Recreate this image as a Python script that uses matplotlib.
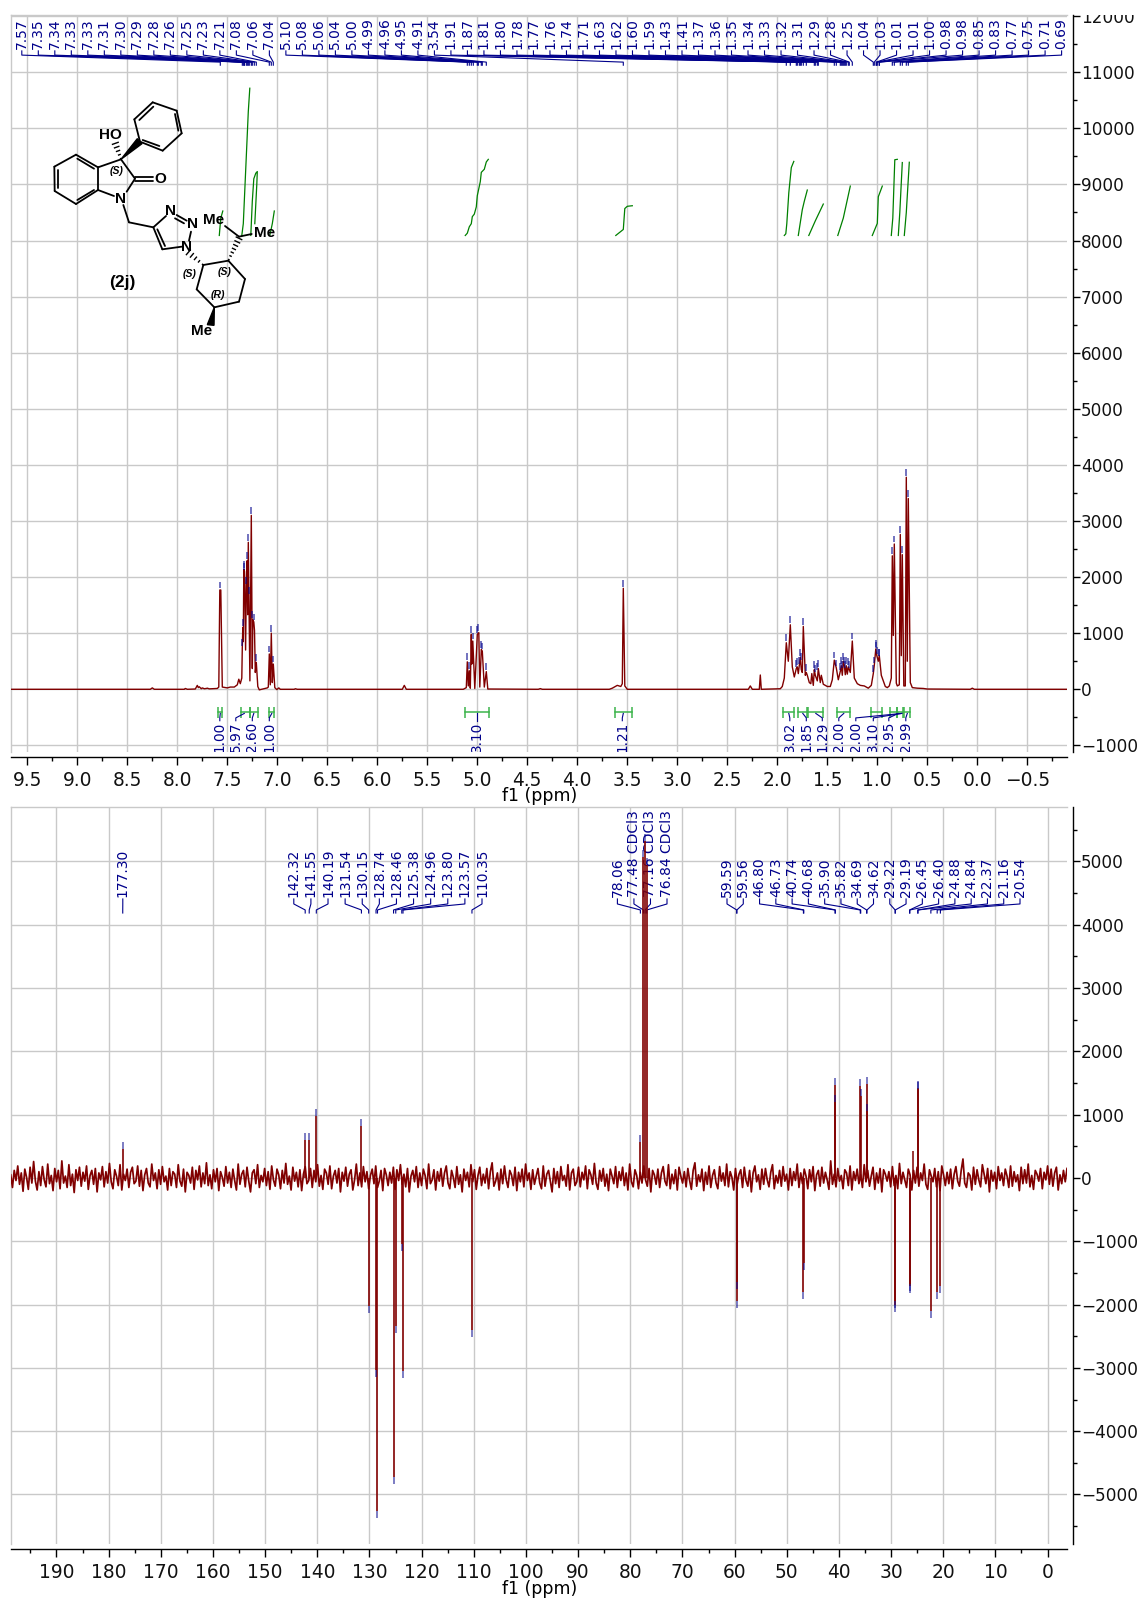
import numpy as np
import matplotlib
matplotlib.use('Agg')
import matplotlib.pyplot as plt
from matplotlib.patches import Polygon
from matplotlib.ticker import MultipleLocator
from matplotlib.transforms import Bbox

W, H = 1138, 1599
RED = '#800000'
NAVY = '#00008b'
GREEN = '#008000'
BRACKET = '#3cb44b'
GRID = '#c9c9c9'

# ---- 1H spectrum, vertices
h_ppm = [9.66, 8.27, 8.25, 8.23, 7.93, 7.92, 7.90, 7.82, 7.80, 7.79, 7.78, 7.76, 7.75, 7.73, 7.71, 7.70, 7.68,
         7.60, 7.585, 7.575, 7.565, 7.55, 7.50, 7.47, 7.43, 7.40, 7.385, 7.37, 7.355, 7.35, 7.345, 7.34, 7.335,
         7.328, 7.317, 7.31, 7.303, 7.296, 7.29, 7.284, 7.274, 7.26, 7.25, 7.245, 7.235, 7.228, 7.22, 7.21,
         7.195, 7.18, 7.10, 7.09, 7.08, 7.07, 7.06, 7.05, 7.04, 7.025, 7.005, 6.985, 6.97, 6.83, 6.82, 6.80,
         5.75, 5.73, 5.71, 5.14, 5.11, 5.10, 5.09, 5.08, 5.07, 5.06, 5.055, 5.045, 5.025, 5.00, 4.985, 4.975,
         4.96, 4.95, 4.93, 4.91, 4.895, 4.39, 4.37, 4.35, 3.68, 3.65, 3.62, 3.60, 3.565, 3.55, 3.54, 3.525,
         3.50, 2.29, 2.27, 2.25, 2.18, 2.17, 2.16, 1.97, 1.95, 1.93, 1.91, 1.89, 1.87, 1.85, 1.83, 1.81, 1.80,
         1.79, 1.78, 1.77, 1.76, 1.75, 1.74, 1.72, 1.71, 1.70, 1.68, 1.665, 1.655, 1.64, 1.63, 1.62, 1.60, 1.59,
         1.57, 1.56, 1.54, 1.50, 1.47, 1.45, 1.43, 1.41, 1.39, 1.37, 1.36, 1.35, 1.34, 1.33, 1.32, 1.31, 1.30,
         1.29, 1.27, 1.25, 1.23, 1.20, 1.17, 1.13, 1.09, 1.06, 1.04, 1.03, 1.015, 1.005, 0.99, 0.98, 0.96, 0.92,
         0.90, 0.88, 0.86, 0.85, 0.84, 0.83, 0.81, 0.80, 0.78, 0.77, 0.76, 0.75, 0.735, 0.72, 0.71, 0.70, 0.69,
         0.67, 0.65, 0.60, 0.54, 0.50, 0.07, 0.05, 0.03, -0.90]
h_int = [0, 0, 25, 0, 0, 15, 0, 5, 70, 30, 45, 10, 25, 10, 15, 20, 8,
         15, 40, 1770, 1770, 40, 25, 40, 40, 80, 180, 100, 200, 750, 1100, 850, 2140,
         2100, 700, 1850, 2290, 1330, 2620, 1670, 150, 3100, 370, 1240, 1200, 1050, 300, 480,
         50, -10, 25, 40, 630, 80, 1000, 120, 450, 30, -5, 25, 0, 0, 10, 0,
         0, 70, 0, 0, 30, 490, 60, 330, 20, 980, 450, 860, 15, 980, 1010, 40,
         710, 680, 40, 315, 5, 0, 12, 0, 0, 20, 50, 70, 50, 100, 1800, 60,
         0, 0, 60, 0, 0, 255, 0, 10, 50, 200, 830, 500, 1150, 400, 220, 370, 400,
         280, 420, 570, 350, 300, 1120, 250, 300, 250, 120, 100, 280, 70, 350, 250, 150, 370,
         120, 250, 90, 50, 50, 170, 520, 380, 170, 320, 420, 250, 500, 430, 260, 420, 270,
         400, 300, 860, 200, 100, 70, 60, 20, 70, 280, 430, 720, 600, 500, 600, 250, 50,
         30, 60, 200, 2380, 960, 2590, 110, 60, 80, 2760, 600, 2400, 60, 60, 3780, 500, 3400,
         120, 30, 20, 15, 5, 0, 20, 0, 0]

h_labels = ['7.57', '7.35', '7.34', '7.33', '7.33', '7.31', '7.30', '7.29', '7.28', '7.26', '7.25', '7.23', '7.21',
            '7.08', '7.06', '7.04', '5.10', '5.08', '5.06', '5.04', '5.00', '4.99', '4.96', '4.95', '4.91', '3.54',
            '1.91', '1.87', '1.81', '1.80', '1.78', '1.77', '1.76', '1.74', '1.71', '1.63', '1.62', '1.60', '1.59',
            '1.43', '1.41', '1.37', '1.36', '1.35', '1.34', '1.33', '1.32', '1.31', '1.29', '1.28', '1.25', '1.04',
            '1.03', '1.01', '1.01', '1.00', '0.98', '0.98', '0.85', '0.83', '0.77', '0.75', '0.71', '0.69']
h_tops = [1770, 750, 1100, 2140, 2100, 1850, 2290, 2620, 1670, 3100, 1240, 1200, 480,
          630, 1000, 450, 490, 330, 980, 860, 980, 1010, 710, 680, 315, 1800,
          830, 1150, 370, 400, 420, 570, 500, 1120, 300, 350, 280, 310, 370,
          520, 380, 320, 420, 350, 500, 430, 350, 420, 400, 350, 860, 280,
          430, 720, 700, 600, 560, 560, 2380, 2590, 2760, 2400, 3780, 3400]

# integral curves
int_curves = [
    ([7.58, 7.575, 7.565, 7.545], [8090, 8200, 8400, 8526]),
    ([7.355, 7.34, 7.31, 7.29, 7.275], [8090, 8300, 9500, 10300, 10715]),
    ([7.265, 7.25, 7.235, 7.215, 7.20, 7.205, 7.225], [8090, 8700, 9100, 9200, 9230, 9000, 8300]),
    ([7.075, 7.05, 7.03], [8090, 8300, 8526]),
    ([5.12, 5.10, 5.08, 5.06, 5.05, 5.03, 5.01, 5.00, 4.97, 4.96, 4.93, 4.91, 4.89],
     [8090, 8130, 8245, 8300, 8425, 8470, 8600, 8800, 9050, 9215, 9270, 9400, 9447]),
    ([3.615, 3.54, 3.525, 3.50, 3.45], [8090, 8197, 8570, 8610, 8620]),
    ([1.93, 1.915, 1.905, 1.885, 1.86, 1.835], [8090, 8120, 8300, 8850, 9300, 9410]),
    ([1.79, 1.75, 1.73, 1.70], [8090, 8550, 8700, 8900]),
    ([1.685, 1.62, 1.54], [8090, 8350, 8650]),
    ([1.395, 1.34, 1.27], [8090, 8400, 8970]),
    ([1.05, 1.0, 0.99, 0.95], [8090, 8305, 8780, 8970]),
    ([0.86, 0.845, 0.825, 0.80], [8090, 8400, 9440, 9447]),
    ([0.79, 0.775, 0.75], [8090, 8500, 9390]),
    ([0.73, 0.71, 0.68], [8090, 8500, 9395]),
]
int_ranges = [(7.59, 7.55), (7.36, 7.275), (7.27, 7.19), (7.08, 7.03), (5.12, 4.88), (3.62, 3.45), (1.94, 1.83),
              (1.79, 1.70), (1.69, 1.54), (1.40, 1.27), (1.06, 0.95), (0.87, 0.80), (0.80, 0.74), (0.73, 0.67)]
int_labels = ['1.00', '5.97', '2.60', '1.00', '3.10', '1.21', '3.02', '1.85', '1.29', '2.00', '2.00', '3.10', '2.95', '2.99']
int_label_ppm = [7.575, 7.415, 7.25, 7.08, 5.005, 3.55, 1.875, 1.71, 1.55, 1.385, 1.215, 1.04, 0.885, 0.715]
int_targets = [7.57, 7.33, 7.235, 7.055, 5.005, 3.54, 1.885, 1.745, 1.615, 1.335, 0.755, 0.755, 0.79, 0.70]

# ---- 13C spectrum
c_noise = [
    50, -150, 120, -40, 190, -100, 80, -210, 140, 10, -180, 170, -80, 260, -50, -190, 100, -120, 180, -30, -140, 220, -90, 40, -200, 150, -60, 120, -170, 270, -80, 30, -150, 210, -120, 60, -230, 130, -40, 170,
    -130, 90, -50, 190, -180, 40, 120, -100, 150, -220, 80, -30, 180, -140, 100, -80, 230, -60, -170, 130, 30, -120, 210, -190, 60, -40, 140, -150, 90, 170, -90, -50, 190, -130, 120, -200, 50, 150, -80, -140,
    220, -40, 80, -170, 130, -100, 180, -60, 30, -190, 150, -120, 100, 60, -150, 210, -50, -130, 140, -220, 90, 40, -80, 170, -180, 120, -30, 190, -140, 80, -90, 240, -120, 50, -170, 130, -60, 150, -200, 100,
    10, -130, 180, -80, 90, -150, 140, -40, -190, 220, -100, 60, 120, -140, 170, -50, -220, 80, 130, -90, 210, -150, 40, -60, 150, -120, 100, -180, 190, -30, -130, 140, 50, -170, 120, -80, 230, -100, 30, -190,
    170, -50, 90, -140, 130, -200, 60, 180, -90, -40, 150, -150, 120, -60, 210, -130, 40, -180, 140, 80, -100, 190, -170, 30, 120, -80, 150, -220, 90, -50, 170, -130, 60, 130, -190, -30, 220, -120, 80, -140,
    180, -60, 100, -170, 40, 140, -90, 190, -150, -50, 120, -200, 150, 50, -120, 90, -80, 170, -180, 130, -40, 210, -100, 60, -140, 150, -220, 30, 120, -60, 180, -150, 80, -120, 140, 40, -170, 220, -90, -30,
    130, -190, 100, -50, 150, -130, 80, 190, -80, -170, 120, 10, -150, 180, -100, 50, -220, 140, -40, 90, -140, 210, -60, 130, -180, 40, 170, -120, 60, -80, 150, -170, 100, 240, -130, -50, 80, -190, 140, -90,
    190, -30, -150, 120, 50, -120, 170, -200, 90, -60, 140, -140, 220, -40, 80, -180, 130, -100, 30, 150, -80, -170, 190, -130, 60, 120, -50, -220, 150, -90, 100, -150, 180, -40, 40, -130, 210, -190, 80, 140,
    -120, -60, 170, -140, 90, -30, 190, -170, 130, 50, -100, 230, -80, -180, 120, -50, 150, -130, 60, -200, 140, 30, -90, 180, -150, 100, -40, 170, -120, 80, -190, 220, -60, -140, 130, 40, -170, 90, -80, 190,
    -30, -130, 150, -220, 120, 50, -100, 140, -150, 80, 180, -50, -120, 210, -170, 60, -90, 130, -190, 170, 30, -80, 100, -140, 150, -40, -180, 120, 240, -130, 50, -60, 140, -200, 90, -100, 190, -150, 40, 130,
    -80, -170, 180, -50, 80, -120, 220, -140, 100, 10, -190, 150, -90, 60, 130, -150, 170, -40, -130, 120, -220, 80, 190, -60, 50, -180, 140, -100, 150, -30, -140, 90, 210, -170, 40, -80, 120, -130, 180, -50,
    60, -190, 150, -120, 100, -40, 220, -150, 80, -90, 140, 30, -170, 130, -60, 180, -200, 50, 120, -130, 170, -80, 90, -30, -180, 270, -100, 60, -140, 150, -50, 40, -170, 130, 80, -120, 190, -190, 100, -40,
    140, -90, 50, -150, 210, -60, 120, -130, 30, 170, -180, 80, -80, 150, -220, 130, 60, -50, 100, -140, 180, -120, 40, -170, 230, -90, 90, -30, -150, 140, 50, -190, 120, -80, 170, -130, 80, -40, 220, -100,
    -180, 130, 30, -60, 150, -140, 100, -200, 190, 50, -120, 90, -90, 140, -170, 60, 180, -50, -130, 120, 300, -80, -150, 80, 40, -190, 170, -100, 130, -30, -140, 210, 60, -90, 150, -220, 120, -50, 90, -170,
    180, -40, 80, -120, 140, 30, -150, 190, -130, 100, -60, 50, -200, 170, -90, 130, -80, 220, -140, 40, -180, 120, 60, -50, 150, -170, 90, -30, 190, -100, 140, -130, 80, 170, -190, 50, -90, 120, -60, 150,
]
c_labels = ['177.30', '142.32', '141.55', '140.19', '131.54', '130.15', '128.74', '128.46', '125.38', '124.96', '123.80',
            '123.57', '110.35', '78.06', '77.48 CDCl3', '77.16 CDCl3', '76.84 CDCl3', '59.59', '59.56', '46.80', '46.73',
            '40.74', '40.68', '35.90', '35.82', '34.69', '34.62', '29.22', '29.19', '26.45', '26.40', '24.88', '24.84',
            '22.37', '21.16', '20.54']
c_ppm = [177.30, 142.32, 141.55, 140.19, 131.54, 130.15, 128.74, 128.46, 125.38, 124.96, 123.80,
         123.57, 110.35, 78.06, 77.48, 77.16, 76.84, 59.59, 59.56, 46.80, 46.73,
         40.74, 40.68, 35.90, 35.82, 34.69, 34.62, 29.22, 29.19, 26.45, 26.40, 24.88, 24.84,
         22.37, 21.16, 20.54]
c_height = [458, 605, 605, 985, 816, -2030, -3040, -5256, -4720, -2340, -1050,
            -3050, -2400, 574, 5065, 5330, 4950, -1950, -1650, -1800, -1350,
            1469, 1195, 1450, 1300, 1485, 1060, -1950, -2000, -1680, -1700, 1415, 1400,
            -2100, -1800, -1700]
c_extra_ppm = [25.8]
c_extra_height = [430]


def px_axes(top, bottom, left=10.7, right=1067):
    return [left / W, 1 - bottom / H, (right - left) / W, (bottom - top) / H]


def setup(ax, xlim, ylim, xmaj, xmin, ymaj, ymin):
    ax.set_xlim(*xlim)
    ax.set_ylim(*ylim)
    ax.xaxis.set_major_locator(MultipleLocator(xmaj))
    ax.xaxis.set_minor_locator(MultipleLocator(xmin))
    ax.yaxis.set_major_locator(MultipleLocator(ymaj))
    ax.yaxis.set_minor_locator(MultipleLocator(ymin))
    ax.yaxis.tick_right()
    ax.grid(True, which='major', color=GRID, lw=1.0, zorder=0)
    ax.set_axisbelow(True)
    for s in ['left', 'top']:
        ax.spines[s].set_color(GRID)
        ax.spines[s].set_linewidth(1.0)
    ax.spines['bottom'].set_position(('outward', 3.3))
    ax.spines['right'].set_position(('outward', 4.1))
    ax.spines['bottom'].set_linewidth(1.0)
    ax.spines['right'].set_linewidth(1.0)
    ax.tick_params(axis='x', which='major', length=6, width=1, labelsize=13.4, pad=4, labelcolor='#111111')
    ax.tick_params(axis='x', which='minor', length=3, width=1)
    ax.tick_params(axis='y', which='major', length=4.8, width=1, labelsize=12.2, pad=1, labelcolor='#111111')
    ax.tick_params(axis='y', which='minor', length=2.8, width=1)


def peak_labels(ax, xs, peaks, labels, y_text, y_a, y_b, y_c, y_d):
    for x, p, lab in zip(xs, peaks, labels):
        ax.text(x, y_text, lab, rotation=90, ha='center', va='bottom', color=NAVY, fontsize=10, zorder=3)
        ax.plot([x, x, p, p], [y_a, y_b, y_c, y_d], color=NAVY, lw=0.8, zorder=3)


fig = plt.figure(figsize=(W / 100, H / 100), dpi=100)

# ---- top panel
ax1 = fig.add_axes(px_axes(15, 752.3))
setup(ax1, (9.666, -0.897), (-1123, 12020), 0.5, 0.25, 1000, 500)
ax1.plot(h_ppm, h_int, color=RED, lw=1.0, zorder=4)
h_peaks = [float(s) for s in h_labels]
tops = np.array(h_tops)
ax1.vlines(h_peaks, tops + 30, tops + 150, color=NAVY, lw=1.1, alpha=0.7, zorder=5)
h_lab_x = 9.5 - (np.linspace(21.8, 1061.6, len(h_labels)) - 27.3) / 100
peak_labels(ax1, h_lab_x, h_peaks, h_labels, 11415, 11380, 11305, 11180, 11125)

for xs, ys in int_curves:
    ax1.plot(xs, ys, color=GREEN, lw=0.9, zorder=3)
for (a, b) in int_ranges:
    ax1.plot([a, b], [-410, -410], color=BRACKET, lw=1.1, zorder=3)
    ax1.vlines([a, b], -510, -310, color=BRACKET, lw=1.1, zorder=3)
for lab, x, t in zip(int_labels, int_label_ppm, int_targets):
    ax1.plot([x, x, t], [-560, -510, -430], color=NAVY, lw=0.8, zorder=3)
    ax1.text(x, -580, lab, rotation=90, ha='center', va='top', color=NAVY, fontsize=9.8, clip_on=True, zorder=3)

# ---- bottom panel
ax2 = fig.add_axes(px_axes(807.3, 1544.3))
setup(ax2, (198.78, -3.73), (-5787, 5856), 10, 5, 1000, 500)
noise_x = np.linspace(198.78, -3.73, len(c_noise))
ax2.plot(noise_x, c_noise, color=RED, lw=1.25, zorder=4)
ax2.vlines(c_ppm, 0, c_height, color=RED, lw=1.2, zorder=4)
ax2.vlines(c_extra_ppm, 0, c_extra_height, color=RED, lw=1.1, zorder=4)
ch = np.array(c_height)
sg = np.sign(ch)
ax2.vlines(c_ppm, ch, ch + sg * 110, color=NAVY, lw=1.2, alpha=0.6, zorder=5)
c_lab_px = [122.8] + list(np.linspace(293.8, 482, 12)) + list(np.linspace(617.4, 667, 4)) + list(np.linspace(727, 1020, 19))
c_lab_x = 190 - (np.array(c_lab_px) - 56.5) / 5.216
peak_labels(ax2, c_lab_x, c_ppm, c_labels, 4439, 4408, 4329, 4234, 4186)

for y in [796.5, 1589]:
    fig.text(539.5 / W, 1 - y / H, 'f1 (ppm)', ha='center', va='center', fontsize=12.4, color='black')

# the 12000 label is cut by the frame top in the original
fig.canvas.draw()
for lab in ax1.get_yticklabels():
    if lab.get_text() == '12000':
        lab.set_clip_box(Bbox.from_extents(0, 0, W, H - 15))
        lab.set_clip_on(True)

# ---- structure (2j), drawn in crop coordinates of the reference
mol = fig.add_axes([0, 0, 1, 1])
mol.set_xlim(-120, 3294)
mol.set_ylim(4527, -270)
mol.axis('off')
mol.patch.set_alpha(0)

bonds = [
    ((43, 230), (108, 194)), ((108, 194), (174, 232)), ((174, 232), (174, 300)), ((174, 300), (108, 342)),
    ((108, 342), (44, 303)), ((44, 303), (43, 230)), ((53, 240), (53, 293)), ((112, 206), (162, 236)),
    ((112, 330), (162, 300)), ((174, 232), (243, 208)), ((243, 208), (285, 266)), ((260, 305), (285, 266)),
    ((174, 300), (222, 318)), ((285, 262), (340, 262)), ((285, 272), (340, 272)), ((250, 345), (267, 397)),
    ((267, 397), (340, 412)), ((340, 412), (378, 378)), ((340, 412), (367, 478)), ((352, 418), (375, 468)),
    ((367, 478), (425, 470)), ((410, 375), (440, 392)), ((405, 385), (432, 400)), ((453, 425), (447, 452)),
    ((300, 155), (283, 88)), ((283, 88), (338, 37)), ((338, 37), (410, 62)), ((410, 62), (425, 130)),
    ((425, 130), (368, 182)), ((368, 182), (300, 155)), ((298, 90), (340, 50)), ((405, 72), (415, 122)),
    ((358, 168), (308, 150)), ((490, 525), (565, 512)), ((565, 512), (615, 567)), ((615, 567), (597, 635)),
    ((597, 635), (523, 652)), ((523, 652), (470, 598)), ((470, 598), (490, 525)), ((597, 440), (555, 408)),
    ((597, 440), (635, 432)),
]
for p, q in bonds:
    mol.plot([p[0], q[0]], [p[1], q[1]], color='black', lw=1.3, solid_capstyle='round', zorder=6)


def hash_bond(p, q, n=6):
    p, q = np.array(p, float), np.array(q, float)
    d = q - p
    nrm = np.array([-d[1], d[0]]) / np.hypot(*d)
    for t in np.linspace(0.05, 1, n):
        c = p + d * t
        w = 9 * t
        mol.plot([c[0] - nrm[0] * w, c[0] + nrm[0] * w], [c[1] - nrm[1] * w, c[1] + nrm[1] * w], color='black', lw=1.0, zorder=6)


hash_bond((243, 208), (226, 160), 5)
hash_bond((490, 525), (445, 487), 5)
hash_bond((565, 512), (597, 445), 7)
mol.add_patch(Polygon([(243, 208), (292, 146), (306, 161)], color='black', zorder=6))
mol.add_patch(Polygon([(523, 652), (502, 704), (522, 706)], color='black', zorder=6))

atoms = [('HO', 212, 136), ('O', 360, 268), ('N', 243, 328), ('N', 393, 362), ('N', 457, 402), ('N', 440, 472),
         ('Me', 521, 390), ('Me', 675, 428), ('Me', 484, 722)]
for s, x, y in atoms:
    mol.text(x, y, s, ha='center', va='center', fontsize=11, fontweight='bold',
             family='Liberation Sans', color='black', zorder=7)
stereo = [('(S)', 230, 242), ('(S)', 450, 553), ('(S)', 555, 547), ('(R)', 535, 616)]
for s, x, y in stereo:
    mol.text(x, y, s, ha='center', va='center', fontsize=7.5, style='italic', fontweight='bold', family='Liberation Sans', color='black', zorder=7)
mol.text(246, 578, '(2j)', ha='center', va='center', fontsize=12.5, fontweight='bold', family='Liberation Sans', color='black', zorder=7)

fig.savefig('out.png', dpi=100)
